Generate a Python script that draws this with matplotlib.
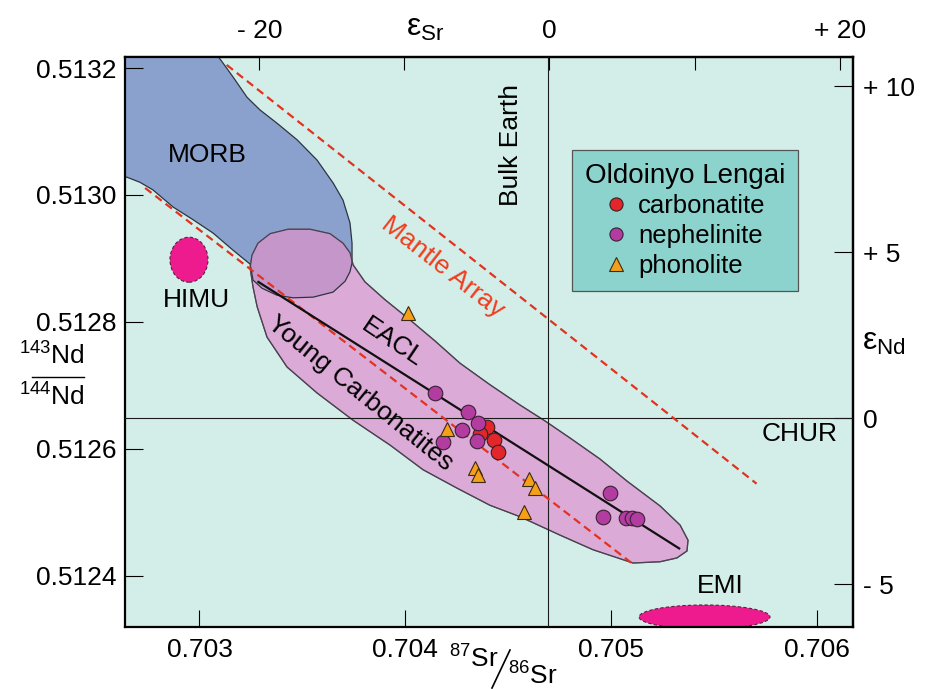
import matplotlib
matplotlib.use('Agg')
import matplotlib.pyplot as plt
from matplotlib.patches import Polygon, Ellipse
from matplotlib.ticker import FormatStrFormatter
from matplotlib.lines import Line2D

plt.rcParams['font.family'] = ['Liberation Sans', 'DejaVu Sans']
plt.rcParams['mathtext.fontset'] = 'custom'
plt.rcParams['mathtext.rm'] = 'Liberation Sans'
plt.rcParams['mathtext.it'] = 'Liberation Sans:italic'
plt.rcParams['mathtext.bf'] = 'Liberation Sans:bold'

# Oldoinyo Lengai samples: 87Sr/86Sr vs 143Nd/144Nd
carb_sr = [0.704395, 0.704363, 0.704431, 0.704451]
carb_nd = [0.512634, 0.512624, 0.512614, 0.512595]
neph_sr = [0.704144, 0.704306, 0.704354, 0.704275, 0.704181, 0.704349,
           0.704994, 0.704958, 0.705072, 0.705099, 0.705127]
neph_nd = [0.512688, 0.512658, 0.512641, 0.512630, 0.512611, 0.512613,
           0.512531, 0.512493, 0.512491, 0.512491, 0.512489]
phon_sr = [0.704011, 0.704201, 0.704338, 0.704354, 0.704602, 0.704630, 0.704576]
phon_nd = [0.512814, 0.512632, 0.512569, 0.512559, 0.512552, 0.512538, 0.512501]

# reference lines
eacl_sr = [0.703286, 0.705330]
eacl_nd = [0.512863, 0.512443]
ma_low_sr = [0.702736, 0.705107]
ma_low_nd = [0.513011, 0.512418]
ma_up_sr = [0.703132, 0.705706]
ma_up_nd = [0.513205, 0.512545]
bulk_earth_sr = 0.704693
chur_nd = 0.512648
sr_be = 0.7047       # epsilon Sr reference
nd_eps_unit = 5.23e-5  # one epsilon Nd unit as drawn

# fields
morb_sr = [0.702566, 0.703066, 0.703114, 0.703163, 0.703231, 0.703294, 0.703377,
           0.703474, 0.703571, 0.703649, 0.703697, 0.703731, 0.703741, 0.703741,
           0.703731, 0.703707, 0.703649, 0.703552, 0.703454, 0.703377, 0.703304,
           0.703260, 0.703246, 0.703163, 0.703066, 0.702969, 0.702872, 0.702774,
           0.702711, 0.702648, 0.702566]
morb_nd = [0.513244, 0.513229, 0.513208, 0.513186, 0.513154, 0.513134, 0.513113,
           0.513087, 0.513055, 0.513019, 0.512992, 0.512956, 0.512924, 0.512893,
           0.512879, 0.512864, 0.512847, 0.512839, 0.512838, 0.512842, 0.512853,
           0.512866, 0.512891, 0.512913, 0.512940, 0.512961, 0.512981, 0.513008,
           0.513020, 0.513028, 0.513030]
yc_sr = [0.703246, 0.703260, 0.703280, 0.703328, 0.703425, 0.703571, 0.703746,
         0.703925, 0.704086, 0.704251, 0.704411, 0.704557, 0.704751, 0.704911,
         0.705106, 0.705237, 0.705319, 0.705368, 0.705373, 0.705334, 0.705237,
         0.705077, 0.704945, 0.704800, 0.704678, 0.704557, 0.704411, 0.704265,
         0.704144, 0.704023, 0.703901, 0.703804, 0.703746, 0.703731, 0.703697,
         0.703634, 0.703537, 0.703430, 0.703343, 0.703284, 0.703255]
yc_nd = [0.512885, 0.512855, 0.512824, 0.512776, 0.512729, 0.512688, 0.512645,
         0.512606, 0.512567, 0.512538, 0.512511, 0.512493, 0.512464, 0.512441,
         0.512420, 0.512422, 0.512428, 0.512439, 0.512456, 0.512480, 0.512510,
         0.512549, 0.512584, 0.512617, 0.512644, 0.512669, 0.512701, 0.512735,
         0.512770, 0.512803, 0.512835, 0.512863, 0.512890, 0.512909, 0.512924,
         0.512939, 0.512946, 0.512946, 0.512939, 0.512924, 0.512905]
himu = (0.702949, 0.512898, 0.0001846, 0.0000709)  # centre, width, height
emi = (0.705453, 0.512335, 0.000636, 0.0000378)

fig = plt.figure(figsize=(9.27, 6.89), dpi=100)
ax = fig.add_axes([0.1348, 0.0900, 0.7853, 0.8273])
ax.set_facecolor('#d3eee8')
ax.set_xlim(0.702638, 0.706174)
ax.set_ylim(0.5123192, 0.5132175)

morb = Polygon(list(zip(morb_sr, morb_nd)), closed=True, facecolor='#8aa1ce',
               edgecolor='#2e3340', lw=0.9, zorder=1)
ax.add_patch(morb)
yc = Polygon(list(zip(yc_sr, yc_nd)), closed=True, facecolor='#dcaad6',
             edgecolor='#6e6470', lw=0.9, zorder=2)
ax.add_patch(yc)
overlap = Polygon(list(zip(morb_sr, morb_nd)), closed=True, facecolor='#c596ca',
                  edgecolor='#2e3340', lw=0.9, zorder=3)
ax.add_patch(overlap)
overlap.set_clip_path(yc)
ax.add_patch(Polygon(list(zip(yc_sr, yc_nd)), closed=True, fill=False,
                     edgecolor='#4a4250', lw=0.9, zorder=3.5))

for cx, cy, w, h in [himu, emi]:
    ax.add_patch(Ellipse((cx, cy), w, h, facecolor='#ee1b8e', edgecolor='#5a2040',
                         lw=0.8, ls=(0, (3, 2)), zorder=2))

ax.axvline(bulk_earth_sr, color='#1a1a1a', lw=0.8, zorder=4)
ax.axhline(chur_nd, color='#1a1a1a', lw=0.8, zorder=4)

dash = (0, (3.6, 2.2))
ax.plot(ma_up_sr, ma_up_nd, color='#e2331f', lw=1.6, ls=dash, zorder=5)
ax.plot(ma_low_sr, ma_low_nd, color='#e2331f', lw=1.6, ls=dash, zorder=5)
ax.plot(eacl_sr, eacl_nd, color='#111111', lw=1.6, zorder=5)

ax.plot(carb_sr, carb_nd, 'o', ms=10.5, mfc='#e3262b', mec='#3a2020', mew=0.8,
        zorder=7, label='carbonatite')
ax.plot(neph_sr, neph_nd, 'o', ms=10.5, mfc='#b23c9f', mec='#3a2035', mew=0.8,
        zorder=8, label='nephelinite')
ax.plot(phon_sr, phon_nd, '^', ms=10.5, mfc='#f6a01a', mec='#3a2a10', mew=0.8,
        zorder=9, label='phonolite')

fs = 19
ax.text(0.703037, 0.513063, 'MORB', fontsize=fs, ha='center', va='center', zorder=6)
ax.text(0.702983, 0.512835, 'HIMU', fontsize=fs, ha='center', va='center', zorder=6)
ax.text(0.705528, 0.512384, 'EMI', fontsize=fs, ha='center', va='center', zorder=6)
ax.text(0.706101, 0.512623, 'CHUR', fontsize=fs, ha='right', va='center', zorder=6)
ax.text(0.704513, 0.513079, 'Bulk Earth', fontsize=fs, ha='center', va='center',
        rotation=90, zorder=6)
ax.text(0.704183, 0.512887, 'Mantle Array', fontsize=fs, color='#f03c1e', ha='center',
        va='center', rotation=-38, rotation_mode='anchor', zorder=6)
ax.text(0.703935, 0.512767, 'EACL', fontsize=fs, ha='center', va='center',
        rotation=-34, rotation_mode='anchor', zorder=6)
ax.text(0.703780, 0.512688, 'Young Carbonatites', fontsize=fs, ha='center', va='center',
        rotation=-39, rotation_mode='anchor', zorder=6)

ax.set_xticks([0.703, 0.704, 0.705, 0.706])
ax.xaxis.set_major_formatter(FormatStrFormatter('%.3f'))
ax.set_yticks([0.5124, 0.5126, 0.5128, 0.5130, 0.5132])
ax.yaxis.set_major_formatter(FormatStrFormatter('%.4f'))
ax.tick_params(axis='x', direction='in', length=12.5, width=0.8, pad=8, labelsize=fs)
ax.tick_params(axis='y', direction='in', length=13, width=0.8, pad=6, labelsize=fs)
for s in ax.spines.values():
    s.set_linewidth(1.6)

top = ax.secondary_xaxis('top', functions=(lambda x: (x / sr_be - 1) * 1e4,
                                           lambda e: (e / 1e4 + 1) * sr_be))
top.set_xticks([-20, -10, 0, 10, 20], ['- 20', '', '0', '', '+ 20'])
top.tick_params(direction='in', length=9, width=0.8, pad=10, labelsize=fs)
right = ax.secondary_yaxis('right', functions=(lambda y: (y - chur_nd) / nd_eps_unit,
                                               lambda e: e * nd_eps_unit + chur_nd))
right.set_yticks([-5, 0, 5, 10], ['- 5', '0', '+ 5', '+ 10'])
right.tick_params(direction='in', length=14, width=0.8, pad=7, labelsize=fs)
for a in (top, right):
    for s in a.spines.values():
        s.set_linewidth(1.6)

leg = ax.legend(loc='upper left', bbox_to_anchor=(0.614, 0.837), borderaxespad=0,
                title='Oldoinyo Lengai', title_fontsize=20, fontsize=18.5,
                frameon=True, fancybox=False, framealpha=1, facecolor='#8cd3ce',
                edgecolor='#555555', handlelength=0.9, handletextpad=0.4,
                labelspacing=0.22, borderpad=0.5, markerscale=0.9)
leg.get_frame().set_linewidth(0.9)
leg.set_zorder(10)

# axis labels
fig.text(52 / 927, 1 - 356 / 689, r'$^{143}$Nd', fontsize=fs, ha='center', va='center')
fig.add_artist(Line2D([32 / 927, 84 / 927], [1 - 377 / 689] * 2, color='k', lw=1))
fig.text(52 / 927, 1 - 397 / 689, r'$^{144}$Nd', fontsize=fs, ha='center', va='center')
fig.text(474 / 927, 1 - 659 / 689, r'$^{87}$Sr', fontsize=fs, ha='center', va='center')
fig.add_artist(Line2D([492 / 927, 510 / 927], [1 - 688 / 689, 1 - 650 / 689],
                      color='k', lw=1.2))
fig.text(533 / 927, 1 - 676 / 689, r'$^{86}$Sr', fontsize=fs, ha='center', va='center')
fig.text(425 / 927, 1 - 28 / 689, r'ε$_{\rm Sr}$', fontsize=23, ha='center', va='center')
fig.text(862 / 927, 1 - 342 / 689, r'ε$_{\rm Nd}$', fontsize=23, ha='left', va='center')

fig.savefig('out.png', dpi=100)
